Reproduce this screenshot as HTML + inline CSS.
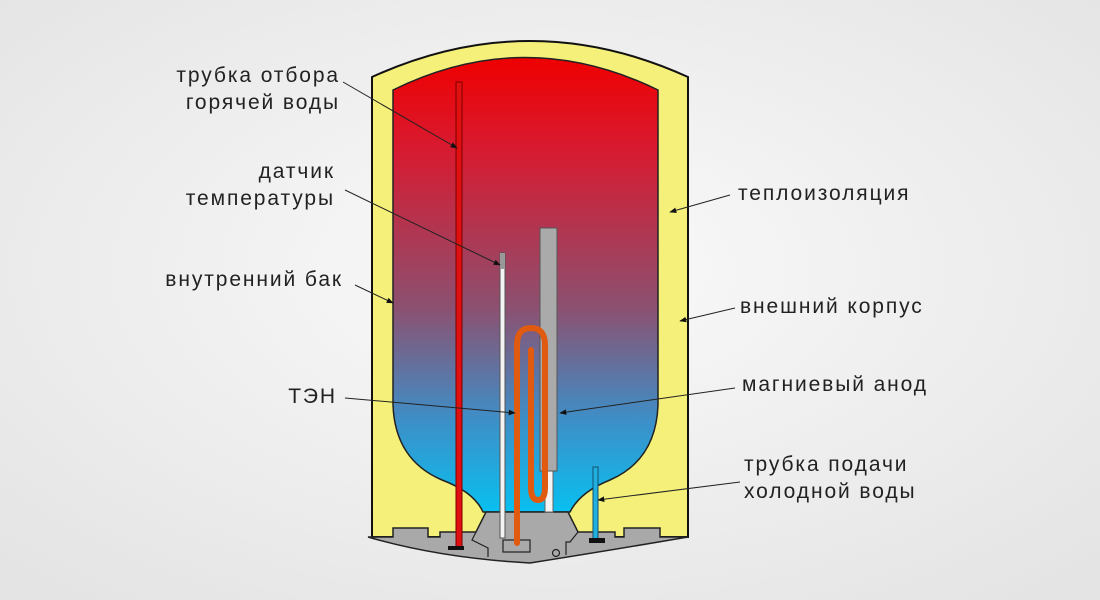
<!DOCTYPE html>
<html><head><meta charset="utf-8"><style>
body{margin:0;background:#f0f0f0;}
svg{display:block}
text{font-family:"Liberation Sans","DejaVu Sans",sans-serif;font-size:21px;fill:#222;letter-spacing:1.9px}
</style></head><body>
<svg width="1100" height="600" viewBox="0 0 1100 600" xmlns="http://www.w3.org/2000/svg">
<defs>
<radialGradient id="bg" cx="0.5" cy="0.45" r="0.7"><stop offset="0" stop-color="#fafafa"/><stop offset="1" stop-color="#e4e4e4"/></radialGradient>
<linearGradient id="w" x1="0" y1="0" x2="0" y2="1"><stop offset="0" stop-color="#ee0000"/><stop offset="0.2" stop-color="#d81a30"/><stop offset="0.55" stop-color="#8c5070"/><stop offset="0.8" stop-color="#3d8fc8"/><stop offset="1" stop-color="#08c0f0"/></linearGradient>
<marker id="a" viewBox="0 0 10 10" refX="9" refY="5" markerWidth="7" markerHeight="7" orient="auto"><path d="M0,1 L10,5 L0,9z" fill="#111"/></marker>
</defs>
<rect width="1100" height="600" fill="url(#bg)"/>
<path d="M372,537 V77 Q530,5 688,77 V537 Z" fill="#f5f07a" stroke="#111" stroke-width="2"/>
<path d="M393,90 Q525,25 658,90 V405 Q656,460 610,480 Q580,492 570,512 H483 Q474,492 442,480 Q395,460 393,405 Z" fill="url(#w)" stroke="#222" stroke-width="1.5"/>
<path d="M368,537 H393 V528 H428 V537 H440 V532 H476 L486,512 H568 L578,532 H615 V537 H624 V528 H660 V537 H688 Q600,552 530,563 Q440,558 368,537 Z" fill="#a9a9a9" stroke="#222" stroke-width="1.5"/>
<path d="M476,532 L472,540 L488,548 L488,557 M578,532 L570,542 L566,542 L566,555" fill="none" stroke="#222" stroke-width="1.2"/>
<rect x="503" y="540" width="27" height="12" fill="none" stroke="#222" stroke-width="1.2"/>
<circle cx="556" cy="553" r="3.5" fill="none" stroke="#222" stroke-width="1.2"/>
<rect x="456" y="82" width="6" height="466" fill="#e01010" stroke="#7a0000" stroke-width="1"/>
<rect x="448" y="546" width="16" height="4" fill="#111"/>
<rect x="500" y="253" width="5" height="285" fill="#f4f4f4" stroke="#555" stroke-width="1"/>
<rect x="500" y="253" width="5" height="16" fill="#999"/>
<rect x="545" y="470" width="8" height="42" fill="#f4f4f4" stroke="#666" stroke-width="1"/>
<rect x="540" y="228" width="17" height="243" fill="#aaa" stroke="#555" stroke-width="1"/>
<path d="M517,543 V345 Q517,328 531,328 Q545,328 545,345 V487 Q545,500 538,500 Q531,500 531,487 V350" fill="none" stroke="#e05a10" stroke-width="6" stroke-linecap="round"/>
<rect x="593" y="467" width="5" height="72" fill="#20b0e0" stroke="#125070" stroke-width="1"/>
<rect x="589" y="538" width="16" height="5" fill="#111"/>
<g stroke="#222" stroke-width="1" fill="none" marker-end="url(#a)">
<line x1="343" y1="82" x2="457" y2="148"/>
<line x1="345" y1="190" x2="500" y2="265"/>
<line x1="355" y1="285" x2="393" y2="303"/>
<line x1="345" y1="398" x2="515" y2="413"/>
<line x1="730" y1="195" x2="670" y2="212"/>
<line x1="735" y1="308" x2="680" y2="321"/>
<line x1="735" y1="388" x2="560" y2="413"/>
<line x1="740" y1="482" x2="598" y2="500"/>
</g>
<g text-anchor="end">
<text x="340" y="82">трубка отбора</text>
<text x="340" y="109">горячей воды</text>
<text x="335" y="178">датчик</text>
<text x="335" y="205">температуры</text>
<text x="343" y="286">внутренний бак</text>
<text x="337" y="403">ТЭН</text>
</g>
<text x="738" y="200">теплоизоляция</text>
<text x="740" y="313">внешний корпус</text>
<text x="742" y="391">магниевый анод</text>
<text x="744" y="471">трубка подачи</text>
<text x="744" y="498">холодной воды</text>
</svg>
</body></html>
